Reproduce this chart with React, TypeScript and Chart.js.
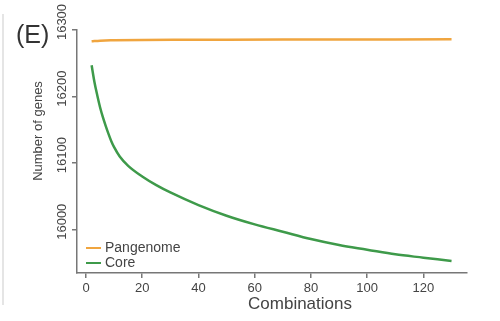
import React, { useEffect, useRef } from "react";
import { Chart, registerables } from "chart.js";

Chart.register(...registerables);

const panelLabel = "(E)";
const xTitle = "Combinations";
const yTitle = "Number of genes";
const yTickValues = [16000, 16100, 16200, 16300];

const pangenomeX = [2, 5, 10, 20, 35, 50, 70, 90, 110, 130];
const pangenomeY = [16283, 16284, 16284.5, 16285, 16285.3, 16285.5, 16285.7, 16285.8, 16285.9, 16286];

const coreX = [2, 3, 4, 5, 6, 7, 8, 9, 10, 12, 15, 20, 25, 30, 40, 50, 60, 70, 80, 90, 100, 110, 120, 130];
const coreY = [16247, 16222, 16202, 16184, 16169, 16156, 16144, 16133, 16124, 16110, 16096, 16080, 16067, 16056, 16037, 16021, 16008, 15997, 15986, 15977, 15970, 15963, 15958, 15953];

const seriesLabels = ["Pangenome", "Core"];
const seriesColors = ["#F0A53F", "#3E9A4A"];

const FONT = "'Liberation Sans', Arial, Helvetica, sans-serif";
const AXIS = "#777777";
const TEXT = "#444444";

export default function App() {
  const ref = useRef<HTMLCanvasElement | null>(null);

  useEffect(() => {
    if (!ref.current) return;
    const overlay = {
      id: "overlay",
      afterDraw(chart: any) {
        const ctx = chart.ctx;
        const ys = chart.scales.y;
        ctx.save();
        // left gray rule
        ctx.strokeStyle = "#dddddd";
        ctx.lineWidth = 1.5;
        ctx.beginPath();
        ctx.moveTo(3, 14);
        ctx.lineTo(3, 305);
        ctx.stroke();
        // panel label
        ctx.fillStyle = "#333333";
        ctx.font = `25px ${FONT}`;
        ctx.textAlign = "left";
        ctx.textBaseline = "alphabetic";
        ctx.fillText(panelLabel, 16, 43);
        // y tick labels (rotated)
        ctx.fillStyle = TEXT;
        ctx.font = `13px ${FONT}`;
        ctx.textAlign = "center";
        ctx.textBaseline = "middle";
        yTickValues.forEach((v) => {
          const py = ys.getPixelForValue(v);
          ctx.save();
          ctx.translate(62, py - 8);
          ctx.rotate(-Math.PI / 2);
          ctx.fillText(String(v), 0, 0);
          ctx.restore();
        });
        // y title
        ctx.save();
        ctx.translate(38, 131);
        ctx.rotate(-Math.PI / 2);
        ctx.fillText(yTitle, 0, 0);
        ctx.restore();
        // x title
        ctx.font = `17px ${FONT}`;
        ctx.fillText(xTitle, 300, 304);
        // legend
        ctx.font = `14px ${FONT}`;
        ctx.textAlign = "left";
        seriesLabels.forEach((lab, i) => {
          const y = 248 + i * 15;
          ctx.strokeStyle = seriesColors[i];
          ctx.lineWidth = 2;
          ctx.beginPath();
          ctx.moveTo(86, y);
          ctx.lineTo(101, y);
          ctx.stroke();
          ctx.fillStyle = TEXT;
          ctx.fillText(lab, 105, y);
        });
        ctx.restore();
      },
    };

    const chart = new Chart(ref.current, {
      type: "scatter",
      data: {
        datasets: [
          {
            label: seriesLabels[0],
            data: pangenomeX.map((x, i) => ({ x, y: pangenomeY[i] })),
            showLine: true,
            borderColor: seriesColors[0],
            borderWidth: 2.5,
            pointRadius: 0,
            cubicInterpolationMode: "monotone",
          },
          {
            label: seriesLabels[1],
            data: coreX.map((x, i) => ({ x, y: coreY[i] })),
            showLine: true,
            borderColor: seriesColors[1],
            borderWidth: 2.5,
            pointRadius: 0,
            cubicInterpolationMode: "monotone",
          },
        ],
      },
      options: {
        responsive: false,
        animation: false,
        layout: { padding: { top: 30, right: 33, left: 0, bottom: 0 } },
        plugins: { legend: { display: false }, tooltip: { enabled: false } },
        scales: {
          x: {
            type: "linear",
            min: -3.2,
            max: 135.5,
            afterFit: (s: any) => {
              s.height = 48;
            },
            ticks: {
              stepSize: 20,
              includeBounds: false,
              color: TEXT,
              font: { family: FONT, size: 13 },
              padding: 3,
              maxRotation: 0,
            },
            grid: {
              display: true,
              drawOnChartArea: false,
              drawTicks: true,
              tickLength: 5,
              color: AXIS,
              lineWidth: 1.5,
            },
            border: { display: true, color: AXIS, width: 1.5 },
          },
          y: {
            type: "linear",
            min: 15935,
            max: 16300,
            afterFit: (s: any) => {
              s.width = 77;
            },
            ticks: { stepSize: 100, includeBounds: false, display: false },
            grid: {
              display: true,
              drawOnChartArea: false,
              drawTicks: true,
              tickLength: 5,
              color: AXIS,
              lineWidth: 1.5,
            },
            border: { display: true, color: AXIS, width: 1.5 },
          },
        },
      } as any,
      plugins: [overlay],
    });
    return () => chart.destroy();
  }, []);

  return (
    <div style={{ position: "absolute", left: 0, top: 0, width: 500, height: 321, background: "#fff" }}>
      <canvas ref={ref} width={500} height={321} style={{ display: "block" }} />
    </div>
  );
}
